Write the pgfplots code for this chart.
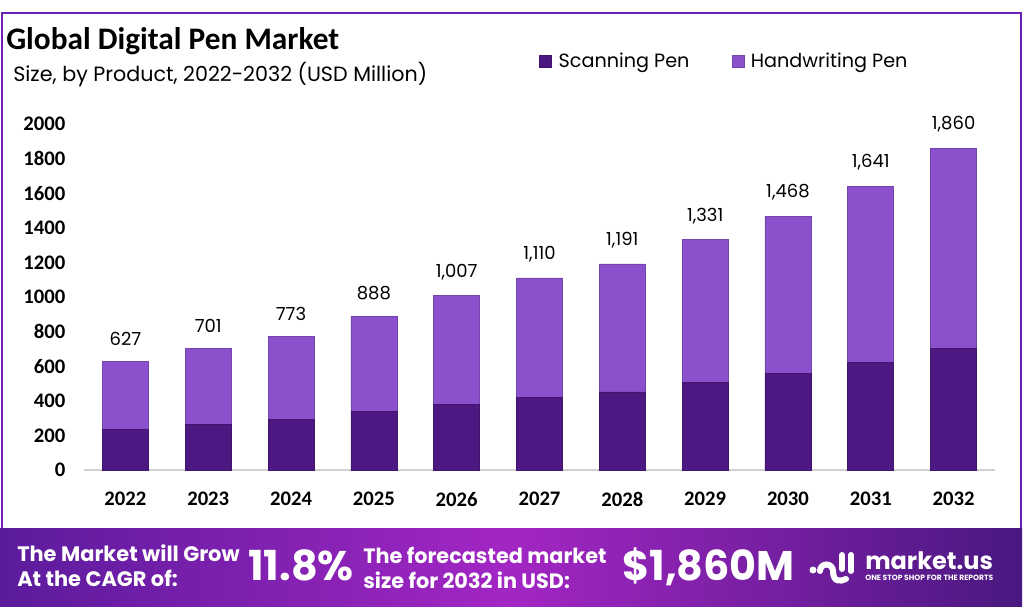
\documentclass[border=0pt]{standalone}
\usepackage{pgfplots}
\pgfplotsset{compat=1.18}
\usepackage{pgfplotstable}
\usepackage{fontspec}
\setmainfont{Poppins}
\newfontfamily\carlito{Carlito}
\usepackage{graphicx}
\definecolor{scan}{HTML}{4E1882}
\definecolor{hand}{HTML}{8B50CC}
\definecolor{framec}{HTML}{6A1FB5}
\definecolor{bl}{HTML}{5B1B9C}
\definecolor{bm}{HTML}{A326C4}
\definecolor{br}{HTML}{4A1880}
\pgfplotstableread{
x scan hand total label
0 235 392 627 627
1 262 439 701 701
2 293 480 773 773
3 337 551 888 888
4 381 626 1007 1,007
5 418 692 1110 1,110
6 451 740 1191 1,191
7 507 824 1331 1,331
8 557 911 1468 1,468
9 624 1017 1641 1,641
10 705 1155 1860 1,860
}\datatable
\begin{document}
\begin{tikzpicture}[x=0.75pt,y=0.75pt]
\path[use as bounding box] (0,0) rectangle (1024,615);
\fill[white] (0,0) rectangle (1024,615);
% frame
\draw[framec, line width=1.5pt] (2,80) -- (2,602) -- (1021,602) -- (1021,80);
% banner
\shade[left color=bl, right color=br, middle color=bm] (0,9) rectangle (1022,87);
% titles
\node[anchor=base west, inner sep=0pt, font=\carlito\bfseries\fontsize{23.5}{26}\selectfont] at (6,565) {Global Digital Pen Market};
\node[anchor=base west, inner sep=0pt, font=\fontsize{15.5}{18}\selectfont] at (13,533.3) {Size, by Product, 2022-2032 (USD Million)};
% axis
\begin{axis}[
  at={(63pt,108.75pt)}, anchor=south west,
  scale only axis, width=683.25pt, height=259.5pt,
  xmin=-0.5, xmax=10.5, ymin=0, ymax=2000,
  ybar stacked, bar width=34.5pt,
  xtick={0,...,10},
  xticklabels={2022,2023,2024,2025,2026,2027,2028,2029,2030,2031,2032},
  ytick={0,200,...,2000},
  axis x line*=bottom, axis y line*=left,
  y axis line style={draw=none},
  x axis line style={draw=black!18, line width=1.2pt, -},
  major tick length=0pt,
  /pgf/number format/assume math mode=true,
  /pgf/number format/1000 sep={},
  tick label style={font=\carlito\bfseries\fontsize{15.5}{17}\selectfont, text=black},
  yticklabel style={xshift=-10.5pt},
  xticklabel style={yshift=-13pt},
  clip=false,
  legend columns=2,
  legend style={at={(0.4995,1.182)}, anchor=west, draw=none, fill=none, inner sep=0pt,
    font=\fontsize{14.4}{16}\selectfont, /tikz/every even column/.append style={column sep=29.5pt}},
  legend image code/.code={\fill[#1] (0pt,-4.5pt) rectangle (9pt,4.5pt); \path (12pt,0pt);},
]
\addplot[fill=scan, draw=scan!85!black, line width=0.5pt] table[x=x, y=scan] {\datatable};
\addplot[fill=hand, draw=hand!85!black, line width=0.5pt] table[x=x, y=hand] {\datatable};
\legend{Scanning Pen, Handwriting Pen}
\end{axis}
% totals overlay
\begin{axis}[
  at={(63pt,108.75pt)}, anchor=south west,
  scale only axis, width=683.25pt, height=259.5pt,
  xmin=-0.5, xmax=10.5, ymin=0, ymax=2000,
  hide axis, clip=false]
\addplot[draw=none, mark=none,
  point meta=explicit symbolic,
  nodes near coords,
  nodes near coords style={anchor=south, yshift=8.5pt, font=\fontsize{13.5}{15}\selectfont, text=black}]
  table[x=x, y=total, meta=label] {\datatable};
\end{axis}
% banner text
\begin{scope}[every node/.style={text=white, inner sep=0pt, anchor=base west}]
\node[font=\bfseries\fontsize{15.7}{18}\selectfont] at (17,54) {The Market will Grow};
\node[font=\bfseries\fontsize{15.7}{18}\selectfont] at (17,28.3) {At the CAGR of:};
\node[font=\bfseries\fontsize{31}{34}\selectfont] at (248,35) {11.8\%};
\node[font=\bfseries\fontsize{15.6}{18}\selectfont] at (363,51.5) {The forecasted market};
\node[font=\bfseries\fontsize{15.6}{18}\selectfont] at (363,26.5) {size for 2032 in USD:};
\node[font=\bfseries\fontsize{31}{34}\selectfont] at (622,35) {\$1,860M};
\node[font=\bfseries\fontsize{18}{20}\selectfont] at (865,46) {market.us};
\node at (865,34.5) {\resizebox{96pt}{!}{\bfseries ONE STOP SHOP FOR THE REPORTS}};
\end{scope}
% logo icon
\fill[white] (813,45) circle (3.5);
\draw[white, line width=4.5pt, line cap=round] (820,44) arc (180:0:6.5) -- (833,44) .. controls (833,33) and (840,33) .. (846,36);
\draw[white, line width=4.5pt, line cap=round] (842,46) -- (842,60);
\draw[white, line width=4.5pt, line cap=round] (851,44) -- (851,60);
\end{tikzpicture}
\end{document}
